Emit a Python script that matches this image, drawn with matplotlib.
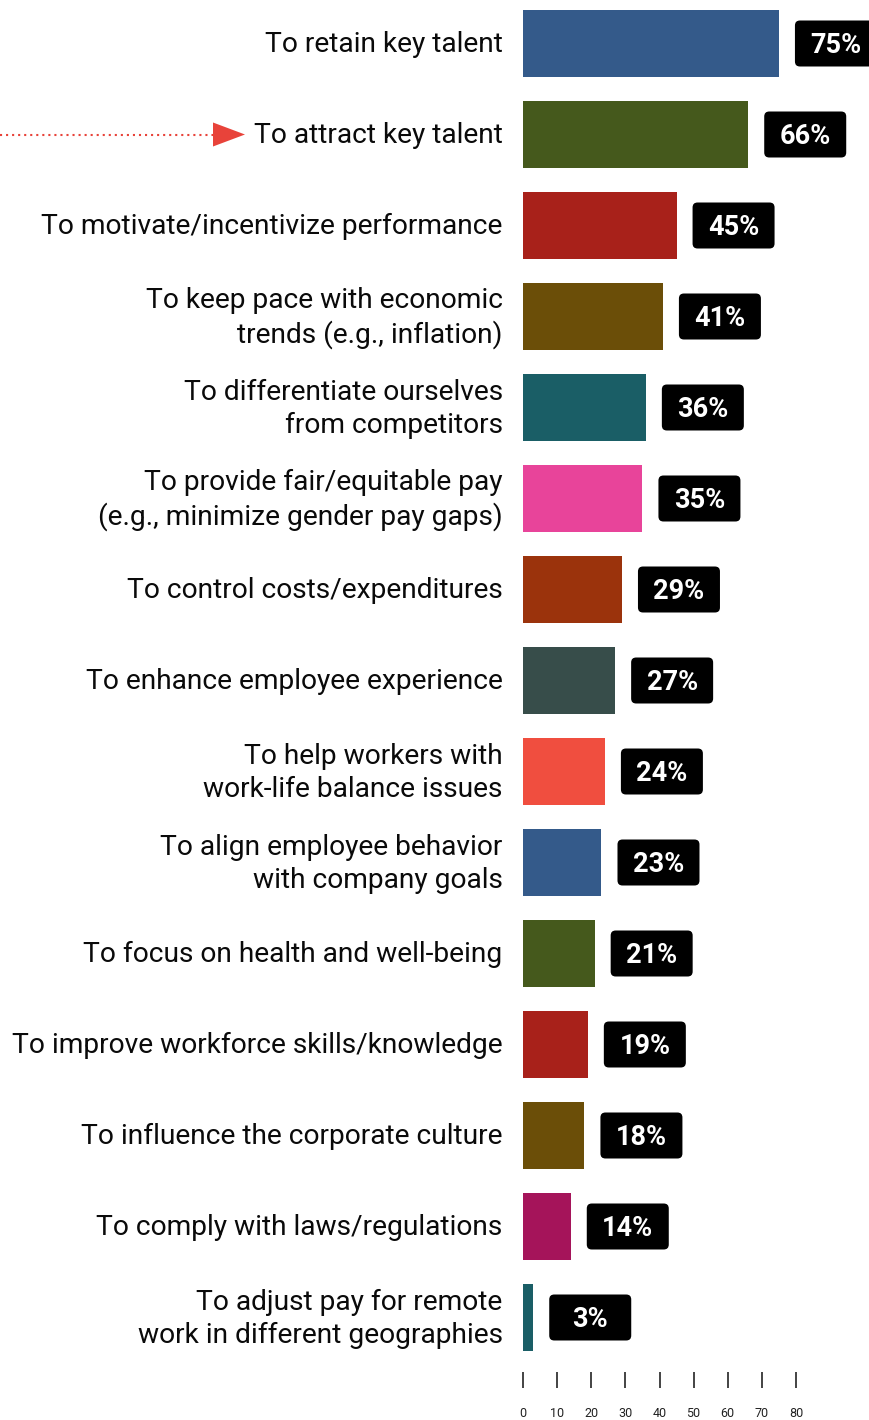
import matplotlib
matplotlib.use("Agg")
import matplotlib.pyplot as plt
from matplotlib import transforms
from matplotlib.patches import FancyBboxPatch, Polygon
from matplotlib.lines import Line2D

plt.rcParams['font.family'] = ['Roboto', 'DejaVu Sans']

reasons = [
    "To retain key talent",
    "To attract key talent",
    "To motivate/incentivize performance",
    "To keep pace with economic\ntrends (e.g., inflation)",
    "To differentiate ourselves\nfrom competitors",
    "To provide fair/equitable pay\n(e.g., minimize gender pay gaps)",
    "To control costs/expenditures",
    "To enhance employee experience",
    "To help workers with\nwork-life balance issues",
    "To align employee behavior\nwith company goals",
    "To focus on health and well-being",
    "To improve workforce skills/knowledge",
    "To influence the corporate culture",
    "To comply with laws/regulations",
    "To adjust pay for remote\nwork in different geographies",
]
shares = [75, 66, 45, 41, 36, 35, 29, 27, 24, 23, 21, 19, 18, 14, 3]
bar_colors = [
    "#345a8a", "#45591c", "#a8211a", "#6b4e08", "#1a5e66",
    "#e8449a", "#9b330c", "#374d4a", "#f04e3f", "#345a8a",
    "#45591c", "#a8211a", "#6b4e08", "#a5145a", "#1a5e66",
]
ticks = [0, 10, 20, 30, 40, 50, 60, 70, 80]

W, H = 870, 1420
fig = plt.figure(figsize=(W / 100, H / 100), dpi=100)
ax = fig.add_axes([523 / W, 57 / H, 273 / W, 1365 / H])

ypos = list(range(len(shares)))
ax.barh(ypos, shares, height=0.736, color=bar_colors)
ax.set_xlim(0, 80)
ax.set_ylim(len(shares) - 0.5, -0.5)

# category labels, right-aligned left of the bars
for y, lab in zip(ypos, reasons):
    ax.annotate(lab, xy=(0, y), xytext=(-14.6, -1.0), textcoords="offset points",
                ha="right", va="center", fontsize=20.25, color="#0a0a0a",
                linespacing=1.3, annotation_clip=False)

# value badges: fixed-size black rounded boxes right of each bar
for y, v in zip(ypos, shares):
    tr = fig.dpi_scale_trans + transforms.ScaledTranslation(v, y, ax.transData)
    box = FancyBboxPatch((0.16 + 0.05, -0.23 + 0.05), 0.82 - 0.1, 0.46 - 0.1,
                         boxstyle="round,pad=0.05", transform=tr,
                         facecolor="black", edgecolor="none", clip_on=False)
    ax.add_patch(box)
    ax.text(0.57, -0.022, f"{v}%", transform=tr, ha="center", va="center",
            color="white", fontsize=19.5, fontweight="bold", clip_on=False)

# highlight arrow pointing at the second category
tr_arrow = fig.dpi_scale_trans + transforms.ScaledTranslation(0, 1, ax.transData)
ax.add_line(Line2D([-5.23, -3.1], [0, 0], transform=tr_arrow, color="#e8433a",
                   lw=1.5, linestyle=(0, (1, 1.9)), clip_on=False))
ax.add_patch(Polygon([[-3.1, 0.12], [-3.1, -0.12], [-2.78, 0.0]], closed=True,
                     transform=tr_arrow, facecolor="#e8433a", edgecolor="none",
                     clip_on=False))

# axis styling: only detached tick marks with small labels
for side in ["top", "right", "left"]:
    ax.spines[side].set_visible(False)
ax.spines["bottom"].set_position(("outward", 6.5))
ax.spines["bottom"].set_visible(False)
ax.set_yticks([])
ax.set_xticks(ticks)
ax.set_xticklabels([str(t) for t in ticks], fontsize=9, color="#222222")
ax.tick_params(axis="x", direction="out", length=11.5, width=1.1,
               color="#111111", pad=14)

fig.savefig("out.png", dpi=100)
